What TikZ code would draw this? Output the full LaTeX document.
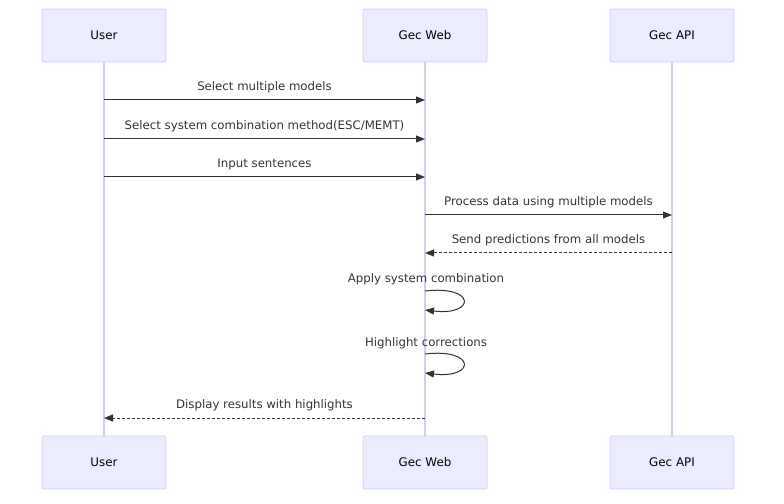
\documentclass[tikz,border=0pt]{standalone}
\usepackage{fontspec}
\setmainfont{DejaVu Sans}
\usetikzlibrary{arrows.meta}
\definecolor{actfill}{HTML}{ECECFF}
\definecolor{actborder}{HTML}{D4CCF4}
\definecolor{lifeline}{HTML}{D4CCF4}
\definecolor{txt}{HTML}{333333}
\tikzset{
  actor/.style={draw=actborder, fill=actfill, rounded corners=2bp, line width=0.8bp,
    minimum width=124bp, minimum height=53bp, inner sep=0pt, font=\fontsize{11.9}{13}\selectfont, text=black},
  lifelinestyle/.style={draw=lifeline, line width=1.2bp},
  msg/.style={draw=txt, line width=1bp, -{Triangle[length=9bp,width=7bp]}},
  ret/.style={msg, dash pattern=on 3bp off 2bp},
  lbl/.style={font=\fontsize{11.8}{13}\selectfont, text=txt, inner sep=0pt}
}
\begin{document}
\begin{tikzpicture}[x=1bp,y=-1bp]
\useasboundingbox (0,0) rectangle (784,504);
% actors top
\node[actor] (ut) at (104,35.5) {User};
\node[actor] (wt) at (425,35.5) {Gec Web};
\node[actor] (at) at (672,35.5) {Gec API};
% actors bottom
\node[actor] (ub) at (104,462.5) {User};
\node[actor] (wb) at (425,462.5) {Gec Web};
\node[actor] (ab) at (672,462.5) {Gec API};
% lifelines
\draw[lifelinestyle] (ut.south) -- (ub.north);
\draw[lifelinestyle] (wt.south) -- (wb.north);
\draw[lifelinestyle] (at.south) -- (ab.north);
% coordinates on lifelines
\coordinate (u1) at (104,100); \coordinate (w1) at (425,100);
\coordinate (u2) at (104,139); \coordinate (w2) at (425,139);
\coordinate (u3) at (104,177); \coordinate (w3) at (425,177);
\coordinate (w4) at (425,215); \coordinate (a4) at (672,215);
\coordinate (w5) at (425,253); \coordinate (a5) at (672,253);
\coordinate (w6s) at (425,291); \coordinate (w6e) at (425,310);
\coordinate (w7s) at (425,354); \coordinate (w7e) at (425,373);
\coordinate (u8) at (104,418); \coordinate (w8) at (425,418);
% messages
\draw[msg] (u1) -- node[lbl, above=6.5bp] {Select multiple models} (w1);
\draw[msg] (u2) -- node[lbl, above=6.5bp] {Select system combination method(ESC/MEMT)} (w2);
\draw[msg] (u3) -- node[lbl, above=6.5bp] {Input sentences} (w3);
\draw[msg] (w4) -- node[lbl, above=6.5bp] {Process data using multiple models} (a4);
\draw[ret] (a5) -- node[lbl, above=6.5bp] {Send predictions from all models} (w5);
\node[lbl] (l6) at (426,279) {Apply system combination};
\draw[msg] (w6s) .. controls (476,285) and (476,316) .. (w6e);
\node[lbl] (l7) at (426,343) {Highlight corrections};
\draw[msg] (w7s) .. controls (476,348) and (476,379) .. (w7e);
\draw[ret] (w8) -- node[lbl, above=6.5bp] {Display results with highlights} (u8);
\end{tikzpicture}
\end{document}
